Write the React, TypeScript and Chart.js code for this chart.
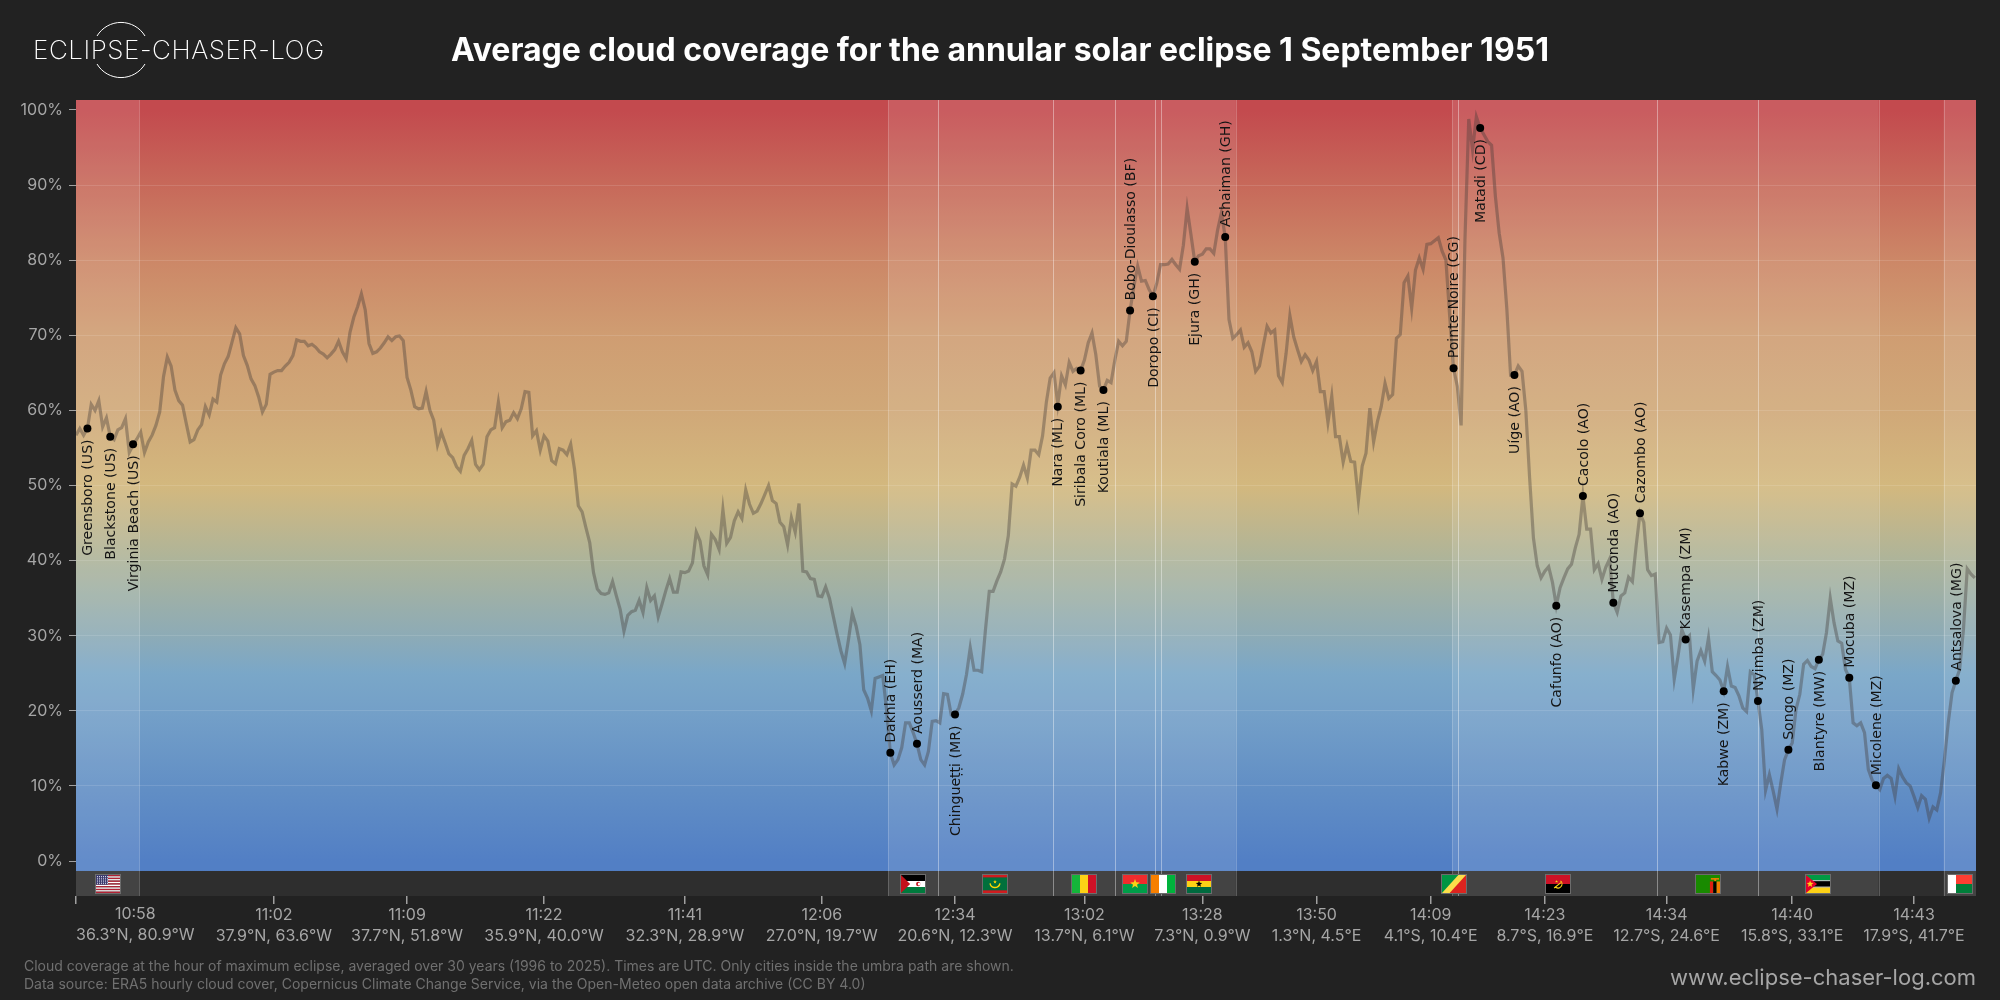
import { useEffect, useRef } from 'react';
import { Chart, registerables } from 'chart.js';

Chart.register(...registerables);

// cloud cover in %, one value per sample along the path, cut in four stretches
const cloudAtlantic = [
  56.7, 57.6, 56.7, 57.6, 60.8, 60.0, 61.3, 57.8, 59.0, 56.5, 56.1, 57.4, 57.7, 58.9, 54.4, 55.4, 56.2, 57.1, 54.4, 55.8,
  56.7, 58.0, 59.8, 64.5, 67.1, 65.9, 62.7, 61.3, 60.7, 58.2, 55.8, 56.1, 57.4, 58.1, 60.5, 59.4, 61.5, 61.1, 64.7, 66.2,
  67.2, 69.1, 71.0, 70.2, 67.3, 66.0, 64.2, 63.3, 61.8, 59.8, 60.8, 64.8, 65.1, 65.3, 65.3, 65.9, 66.4, 67.3, 69.4, 69.2,
  69.2, 68.6, 68.8, 68.4, 67.8, 67.5, 67.0, 67.5, 68.1, 69.2, 67.8, 66.9, 70.4, 72.4, 73.8, 75.5, 73.4, 68.9, 67.6, 67.8,
  68.3, 69.0, 69.8, 69.3, 69.8, 69.9, 69.3, 64.4, 62.7, 60.5, 60.2, 60.3, 62.5, 60.0, 58.7, 55.4, 57.1, 55.7, 54.2, 53.7,
  52.5, 51.9, 54.0, 54.9, 56.0, 52.8, 52.1, 52.8, 56.5, 57.4, 57.7, 61.1, 57.7, 58.5, 58.7, 59.7, 58.9, 60.2, 62.5, 62.4,
  56.6, 57.3, 54.7, 56.6, 55.9, 53.3, 52.9, 54.9, 54.7, 54.1, 55.5,
];
const cloudSahara = [
  52.2, 47.3, 46.5, 44.4, 42.4, 38.4, 36.2, 35.6, 35.5, 35.7, 37.2, 35.3, 33.5, 30.6, 32.7, 33.2, 33.4, 34.7, 33.1, 36.4,
  34.7, 35.3, 32.5, 34.2, 36.0, 37.6, 35.8, 35.8, 38.5, 38.4, 38.6, 39.7, 43.8, 42.6, 39.3, 38.1, 43.5, 42.8, 41.5, 46.8,
  42.3, 43.1, 45.3, 46.5, 45.6, 49.4, 47.5, 46.3, 46.6, 47.6, 48.8, 50.0, 48.0, 47.6, 45.1, 44.5, 42.1, 45.7, 43.8, 47.6,
  38.6, 38.5, 37.6, 37.5, 35.3, 35.2, 36.5, 35.0, 32.6, 30.2, 28.0, 26.3, 29.5, 33.0, 31.3, 28.8, 22.8, 21.7, 20.0, 24.3,
  24.5, 24.7, 20.2, 14.4, 12.8, 13.5, 15.1, 18.4, 18.4, 17.1, 15.6, 13.5, 12.8, 14.6, 18.6, 18.7, 18.4, 22.3, 22.2, 19.5,
  19.5, 20.4, 22.2, 24.8, 28.4, 25.4, 25.4, 25.2, 30.8, 35.9, 35.9, 37.3, 38.5, 40.2, 43.3, 50.2, 49.9, 51.1, 52.7, 51.0,
  54.7, 54.7, 54.1, 56.6, 61.1,
];
const cloudGuinea = [
  64.3, 65.0, 60.8, 64.6, 63.4, 66.4, 65.2, 65.6, 65.3, 66.7, 69.0, 70.3, 67.4, 63.2, 62.7, 64.0, 63.7, 66.7, 69.2, 68.6,
  69.2, 73.3, 76.5, 79.2, 77.2, 77.3, 76.1, 75.2, 76.9, 79.4, 79.4, 79.5, 80.1, 79.4, 78.8, 82.0, 86.9, 83.4, 79.8, 80.6,
  80.8, 81.5, 81.5, 80.9, 84.0, 86.3, 83.1, 72.1, 69.6, 70.1, 70.7, 68.4, 69.0, 67.8, 65.2, 65.9, 68.6, 71.2, 70.3, 70.7,
  64.6, 63.7, 67.6, 72.6, 69.8, 68.1, 66.5, 67.4, 66.7, 65.3, 66.5, 62.5, 62.5, 58.4, 61.9, 56.5, 56.5, 53.1, 55.3, 53.2,
  53.1, 48.0, 52.6, 54.3, 60.3, 55.8, 58.5, 60.5, 63.6, 61.6, 62.1, 69.6, 70.1, 77.0, 77.9, 73.6, 78.7, 80.3, 78.8, 82.1,
  82.2, 82.6, 83.0, 81.2, 80.0, 72.5, 65.6, 63.2, 58.0, 82.7, 98.8, 94.7, 99.1, 97.6, 96.7, 95.8, 95.3, 88.5, 83.6, 80.3,
  73.6, 64.7, 64.7, 65.9, 65.2, 60.0, 51.0, 43.0,
];
const cloudSouthernAfrica = [
  39.3, 37.7, 38.6, 39.2, 37.1, 34.0, 36.4, 37.7, 38.9, 39.5, 41.7, 43.5, 48.6, 44.2, 44.2, 38.8, 39.6, 37.5, 39.1, 40.2,
  34.4, 33.1, 35.3, 35.7, 37.8, 37.2, 42.0, 46.3, 45.1, 38.8, 38.0, 38.2, 29.1, 29.2, 31.0, 30.1, 24.2, 27.3, 30.8, 29.5,
  30.0, 22.9, 26.6, 28.0, 26.6, 29.7, 25.2, 24.7, 24.1, 22.6, 25.9, 23.3, 23.1, 22.0, 20.4, 19.9, 25.2, 24.8, 21.3, 17.5,
  9.4, 11.5, 9.3, 6.9, 10.4, 13.5, 14.8, 15.7, 20.2, 22.2, 26.2, 26.7, 25.9, 25.6, 26.8, 27.5, 30.4, 35.0, 31.7, 29.3,
  29.0, 25.5, 24.4, 18.4, 18.0, 18.4, 17.1, 12.2, 10.8, 10.1, 9.5, 11.0, 11.4, 11.0, 8.6, 12.3, 11.2, 10.4, 10.0, 8.6,
  7.1, 8.7, 8.2, 5.7, 7.2, 6.8, 9.1, 13.5, 18.4, 22.4, 24.0, 25.5, 30.8, 38.9, 38.2, 37.7,
];
const cloudCover = [...cloudAtlantic, ...cloudSahara, ...cloudGuinea, ...cloudSouthernAfrica];

const cityNames = [
  'Greensboro (US)', 'Blackstone (US)', 'Virginia Beach (US)', 'Dakhla (EH)', 'Aousserd (MA)', 'Chingueṭṭi (MR)',
  'Nara (ML)', 'Siribala Coro (ML)', 'Koutiala (ML)', 'Bobo-Dioulasso (BF)', 'Doropo (CI)', 'Ejura (GH)', 'Ashaiman (GH)',
  'Pointe-Noire (CG)', 'Matadi (CD)', 'Uíge (AO)', 'Cafunfo (AO)', 'Cacolo (AO)', 'Muconda (AO)', 'Cazombo (AO)',
  'Kasempa (ZM)', 'Kabwe (ZM)', 'Nyimba (ZM)', 'Songo (MZ)', 'Blantyre (MW)', 'Mocuba (MZ)', 'Micolene (MZ)', 'Antsalova (MG)',
];
const citySample = [3, 9, 15, 214, 221, 231, 258, 264, 270, 277, 283, 294, 302, 362, 369, 378, 389, 396, 404, 411, 423, 433, 442, 450, 458, 466, 473, 494];
const cityCloud = [57.6, 56.5, 55.5, 14.4, 15.6, 19.5, 60.5, 65.3, 62.7, 73.3, 75.2, 79.8, 83.1, 65.6, 97.6, 64.7, 34.0, 48.6, 34.4, 46.3, 29.5, 22.6, 21.3, 14.8, 26.8, 24.4, 10.1, 24.0];
const cityAbove = [false, false, false, true, true, false, false, false, false, true, false, false, true, true, false, false, false, true, true, true, true, false, true, true, false, true, true, true];

const tickSamples = [0, 52, 87, 123, 160, 196, 231, 265, 296, 326, 356, 386, 418, 451, 483];
const tickTimes = ['10:58', '11:02', '11:09', '11:22', '11:41', '12:06', '12:34', '13:02', '13:28', '13:50', '14:09', '14:23', '14:34', '14:40', '14:43'];
const tickCoords = [
  '36.3°N, 80.9°W', '37.9°N, 63.6°W', '37.7°N, 51.8°W', '35.9°N, 40.0°W', '32.3°N, 28.9°W', '27.0°N, 19.7°W', '20.6°N, 12.3°W',
  '13.7°N, 6.1°W', '7.3°N, 0.9°W', '1.3°N, 4.5°E', '4.1°S, 10.4°E', '8.7°S, 16.9°E', '12.7°S, 24.6°E', '15.8°S, 33.1°E', '17.9°S, 41.7°E',
];
const yTicks = [0, 10, 20, 30, 40, 50, 60, 70, 80, 90, 100];

// country stretches over land, in samples
const bandStart = [0, 213.5, 226.6, 256.7, 273.1, 283.6, 285.2, 361.7, 363.1, 415.6, 442.1, 490.8];
const bandEnd = [16.6, 226.6, 256.7, 273.1, 283.6, 285.2, 304.8, 363.1, 415.6, 442.1, 473.7, 499.3];
const flagCodes = ['US', 'EH', 'MR', 'ML', 'BF', 'CI', 'GH', 'CG', 'AO', 'ZM', 'MZ', 'MG'];
const flagSample = [8.3, 220, 241.6, 264.9, 278.3, 285.7, 295, 362.2, 389.4, 428.8, 457.9, 495];

const gradientValues = [100, 90, 80, 70, 60, 50, 40, 30, 25, 20, 10, 0];
const gradientColors = ['#c34a4e', '#c7695a', '#cc8767', '#cf9d72', '#d0a878', '#d3b87e', '#adb49a', '#8dabb6', '#7aa7c8', '#74a0c8', '#628fc5', '#527fc5'];

const Y_MIN = -4.66;
const Y_MAX = 101.33;
const GRADIENT_FLOOR = -1.33;
const X_MAX = 499.3;
const FLAG_ROW = -3;

type Ctx = CanvasRenderingContext2D;

function star(ctx: Ctx, cx: number, cy: number, r: number, color: string) {
  ctx.fillStyle = color;
  ctx.beginPath();
  for (let i = 0; i < 10; i++) {
    const rad = i % 2 ? r * 0.42 : r;
    const a = -Math.PI / 2 + (i * Math.PI) / 5;
    ctx.lineTo(cx + rad * Math.cos(a), cy + rad * Math.sin(a));
  }
  ctx.closePath();
  ctx.fill();
}

function hStripes(ctx: Ctx, x: number, y: number, w: number, h: number, colors: string[], weights?: number[]) {
  const total = weights ? weights.reduce((a, b) => a + b, 0) : colors.length;
  let top = y;
  colors.forEach((c, i) => {
    const sh = (h * (weights ? weights[i] : 1)) / total;
    ctx.fillStyle = c;
    ctx.fillRect(x, top, w, sh);
    top += sh;
  });
}

function vStripes(ctx: Ctx, x: number, y: number, w: number, h: number, colors: string[]) {
  colors.forEach((c, i) => {
    ctx.fillStyle = c;
    ctx.fillRect(x + (i * w) / colors.length, y, w / colors.length, h);
  });
}

function tri(ctx: Ctx, pts: number[], color: string) {
  ctx.fillStyle = color;
  ctx.beginPath();
  ctx.moveTo(pts[0], pts[1]);
  for (let i = 2; i < pts.length; i += 2) ctx.lineTo(pts[i], pts[i + 1]);
  ctx.closePath();
  ctx.fill();
}

function drawFlag(ctx: Ctx, code: string, x: number, y: number, w: number, h: number) {
  ctx.save();
  ctx.beginPath();
  ctx.rect(x, y, w, h);
  ctx.clip();
  if (code === 'US') {
    hStripes(ctx, x, y, w, h, ['#b22234', '#fff', '#b22234', '#fff', '#b22234', '#fff', '#b22234', '#fff', '#b22234', '#fff', '#b22234', '#fff', '#b22234']);
    ctx.fillStyle = '#3c3b6e';
    ctx.fillRect(x, y, w * 0.5, h * 0.54);
    ctx.fillStyle = '#dfe2f0';
    for (let r = 0; r < 5; r++) for (let c = 0; c < 6; c++) ctx.fillRect(x + 1 + c * 2, y + 1 + r * 1.8, 1, 0.9);
  } else if (code === 'EH') {
    hStripes(ctx, x, y, w, h, ['#000', '#fff', '#007a3d']);
    tri(ctx, [x, y, x + w * 0.38, y + h / 2, x, y + h], '#c4111b');
    ctx.fillStyle = '#c4111b';
    ctx.beginPath();
    ctx.arc(x + w * 0.72, y + h / 2, 2.2, 0, Math.PI * 2);
    ctx.fill();
    ctx.fillStyle = '#fff';
    ctx.beginPath();
    ctx.arc(x + w * 0.76, y + h / 2, 1.5, 0, Math.PI * 2);
    ctx.fill();
  } else if (code === 'MR') {
    hStripes(ctx, x, y, w, h, ['#d01c1f', '#00703c', '#d01c1f'], [1, 5, 1]);
    ctx.strokeStyle = '#ffd700';
    ctx.lineWidth = 1.4;
    ctx.beginPath();
    ctx.arc(x + w / 2, y + h * 0.42, 5, 0.15, Math.PI - 0.15);
    ctx.stroke();
    star(ctx, x + w / 2, y + h * 0.38, 2, '#ffd700');
  } else if (code === 'ML') {
    vStripes(ctx, x, y, w, h, ['#14b53a', '#fcd116', '#ce1126']);
  } else if (code === 'BF') {
    hStripes(ctx, x, y, w, h, ['#ef2b2d', '#009e49']);
    star(ctx, x + w / 2, y + h / 2, 5, '#fcd116');
  } else if (code === 'CI') {
    vStripes(ctx, x, y, w, h, ['#f77f00', '#fff', '#00b33c']);
  } else if (code === 'GH') {
    hStripes(ctx, x, y, w, h, ['#ce1126', '#fcd116', '#006b3f']);
    star(ctx, x + w / 2, y + h / 2, 3.4, '#000');
  } else if (code === 'CG') {
    ctx.fillStyle = '#fbde4a';
    ctx.fillRect(x, y, w, h);
    tri(ctx, [x, y, x + w * 0.68, y, x, y + h], '#009543');
    tri(ctx, [x + w, y, x + w, y + h, x + w * 0.32, y + h], '#dc241f');
  } else if (code === 'AO') {
    hStripes(ctx, x, y, w, h, ['#ce1126', '#000']);
    ctx.strokeStyle = '#f9d616';
    ctx.lineWidth = 1.1;
    ctx.beginPath();
    ctx.arc(x + w / 2, y + h / 2, 4, -0.9, 2.2);
    ctx.moveTo(x + w * 0.34, y + h * 0.72);
    ctx.lineTo(x + w * 0.62, y + h * 0.42);
    ctx.stroke();
    star(ctx, x + w * 0.44, y + h * 0.36, 1.5, '#f9d616');
  } else if (code === 'ZM') {
    ctx.fillStyle = '#198a00';
    ctx.fillRect(x, y, w, h);
    vStripes(ctx, x + w * 0.58, y + h * 0.36, w * 0.42, h * 0.64, ['#de2010', '#000', '#ef7d00']);
    ctx.fillStyle = '#ef7d00';
    ctx.fillRect(x + w * 0.62, y + h * 0.17, w * 0.34, 1.6);
    ctx.fillRect(x + w * 0.76, y + h * 0.17, w * 0.08, 3);
  } else if (code === 'MZ') {
    hStripes(ctx, x, y, w, h, ['#009a44', '#fff', '#000', '#fff', '#fcd116'], [6, 1, 6, 1, 6]);
    tri(ctx, [x, y, x + w * 0.46, y + h / 2, x, y + h], '#e4002b');
    star(ctx, x + w * 0.17, y + h / 2, 3.6, '#fcd116');
  } else if (code === 'MG') {
    ctx.fillStyle = '#fff';
    ctx.fillRect(x, y, w / 3, h);
    hStripes(ctx, x + w / 3, y, (w * 2) / 3, h, ['#fc3d32', '#007e3a']);
  }
  ctx.restore();
  ctx.strokeStyle = '#6c6c6c';
  ctx.lineWidth = 1;
  ctx.strokeRect(x - 0.5, y - 0.5, w + 1, h + 1);
}

const backdropPlugin = {
  id: 'backdrop',
  beforeDraw(chart: Chart) {
    const { ctx, chartArea: area, scales } = chart;
    const xs = scales.x;
    const ys = scales.y;
    const floor = ys.getPixelForValue(GRADIENT_FLOOR);
    const y0 = ys.getPixelForValue(0);
    const y100 = ys.getPixelForValue(100);
    const grad = ctx.createLinearGradient(0, y100, 0, y0);
    gradientValues.forEach((v, i) => grad.addColorStop((100 - v) / 100, gradientColors[i]));
    ctx.save();
    ctx.fillStyle = grad;
    ctx.fillRect(area.left, area.top, area.width, floor - area.top);
    ctx.fillStyle = '#2e2e2e';
    ctx.fillRect(area.left, floor, area.width, area.bottom - floor);
    bandStart.forEach((s, i) => {
      const a = xs.getPixelForValue(s);
      const b = xs.getPixelForValue(bandEnd[i]);
      ctx.fillStyle = 'rgba(255,255,255,0.1)';
      ctx.fillRect(a, area.top, b - a, area.height);
    });
    ctx.strokeStyle = 'rgba(255,255,255,0.22)';
    ctx.lineWidth = 1;
    [...bandStart, ...bandEnd].forEach((s) => {
      if (s <= 0 || s >= X_MAX) return;
      const p = Math.round(xs.getPixelForValue(s)) + 0.5;
      ctx.beginPath();
      ctx.moveTo(p, area.top);
      ctx.lineTo(p, area.bottom);
      ctx.stroke();
    });
    ctx.restore();
  },
  afterDraw(chart: Chart) {
    const { ctx, scales } = chart;
    const xs = scales.x;
    const ys = scales.y;
    const rowY = ys.getPixelForValue(FLAG_ROW);
    flagCodes.forEach((code, i) => {
      drawFlag(ctx, code, Math.round(xs.getPixelForValue(flagSample[i])) - 12, Math.round(rowY) - 9, 24, 18);
    });

    // first tick label sits flush with the axis start, not centred on its tick
    ctx.save();
    ctx.font = '16px Inter';
    ctx.fillStyle = '#a6a6a6';
    ctx.textBaseline = 'middle';
    ctx.textAlign = 'center';
    const left = xs.getPixelForValue(tickSamples[0]);
    const mid = left + ctx.measureText(tickCoords[0]).width / 2;
    ctx.fillText(tickTimes[0], mid, xs.top + 18);
    ctx.fillText(tickCoords[0], mid, xs.top + 39);
    ctx.restore();
  },
};

const cityLabelPlugin = {
  id: 'cityLabels',
  afterDatasetsDraw(chart: Chart) {
    const { ctx, scales } = chart;
    ctx.save();
    ctx.font = '14.1px "DejaVu Sans"';
    ctx.fillStyle = '#141414';
    ctx.textBaseline = 'middle';
    cityNames.forEach((name, i) => {
      const x = scales.x.getPixelForValue(citySample[i]);
      const y = scales.y.getPixelForValue(cityCloud[i]);
      ctx.save();
      ctx.translate(x + 1, y);
      ctx.rotate(-Math.PI / 2);
      ctx.textAlign = cityAbove[i] ? 'left' : 'right';
      ctx.fillText(name, cityAbove[i] ? 10 : -11, 0);
      ctx.restore();
    });
    ctx.restore();
  },
};

const overlay = (css: React.CSSProperties) => ({ position: 'absolute' as const, whiteSpace: 'nowrap' as const, ...css });

export default function App() {
  const chartRef = useRef<HTMLCanvasElement>(null);

  useEffect(() => {
    document.body.style.margin = '0';
    if (!chartRef.current) return;

    const chart = new Chart(chartRef.current, {
      type: 'line',
      data: {
        datasets: [
          {
            label: 'Cities',
            data: citySample.map((s, i) => ({ x: s, y: cityCloud[i] })),
            showLine: false,
            pointRadius: 4,
            pointBackgroundColor: '#000',
            pointBorderWidth: 0,
            order: 0,
          },
          {
            label: 'Cloud coverage',
            data: cloudCover.map((v, i) => ({ x: i, y: v })),
            borderColor: 'rgba(66, 58, 56, 0.38)',
            borderWidth: 3.2,
            pointRadius: 0,
            tension: 0,
            order: 1,
          },
        ],
      },
      options: {
        animation: false,
        responsive: false,
        devicePixelRatio: 1,
        layout: { padding: { top: 100, right: 24, left: 0, bottom: 0 } },
        plugins: { legend: { display: false }, tooltip: { enabled: false } },
        scales: {
          x: {
            type: 'linear',
            min: 0,
            max: X_MAX,
            afterFit: (scale: any) => { scale.height = 104; },
            afterBuildTicks: (scale: any) => { scale.ticks = tickSamples.map((value) => ({ value })); },
            border: { display: false },
            grid: { drawOnChartArea: false, color: '#a0a0a0', lineWidth: 1.5, tickLength: 8 },
            ticks: {
              autoSkip: false,
              maxRotation: 0,
              padding: 1,
              color: '#a6a6a6',
              font: { family: 'Inter', size: 16, lineHeight: 1.3125 },
              callback: (value: any) => {
                const i = tickSamples.indexOf(value);
                return i <= 0 ? '' : [tickTimes[i], tickCoords[i]];
              },
            },
          },
          y: {
            min: Y_MIN,
            max: Y_MAX,
            afterFit: (scale: any) => { scale.width = 76; },
            afterBuildTicks: (scale: any) => { scale.ticks = yTicks.map((value) => ({ value })); },
            border: { display: false },
            grid: {
              color: (c: any) => (c.tick && c.tick.value > 0 && c.tick.value < 100 ? 'rgba(255,255,255,0.12)' : 'rgba(0,0,0,0)'),
              tickColor: '#a0a0a0',
              tickLength: 7,
            },
            ticks: {
              padding: 6,
              color: '#a6a6a6',
              font: { family: 'Inter', size: 16 },
              callback: (value: any) => `${value}%`,
            },
          },
        },
      },
      plugins: [backdropPlugin, cityLabelPlugin],
    });

    return () => {
      chart.destroy();
    };
  }, []);

  return (
    <div style={{ position: 'absolute', left: 0, top: 0, width: 2000, height: 1000, background: '#222222', overflow: 'hidden', fontFamily: 'Inter' }}>
      <canvas ref={chartRef} width={2000} height={1000} style={{ position: 'absolute', left: 0, top: 0 }} />

      <svg width={340} height={90} style={{ position: 'absolute', left: 0, top: 0 }}>
        <path d="M97 36 A28 28 0 0 1 145 36" fill="none" stroke="#fff" strokeWidth={1} />
        <path d="M97 64 A28 28 0 0 0 145 64" fill="none" stroke="#fff" strokeWidth={1} />
      </svg>
      <div style={overlay({ left: 33, top: 34, fontSize: 26, lineHeight: '32px', fontWeight: 200, color: '#fff', letterSpacing: 0.55 })}>ECLIPSE-CHASER-LOG</div>

      <div style={overlay({ left: 451, top: 28, fontSize: 32, lineHeight: '44px', fontWeight: 700, color: '#fff' })}>
        Average cloud coverage for the annular solar eclipse 1 September 1951
      </div>

      <div style={overlay({ left: 24, top: 957, fontSize: 14, lineHeight: '18px', color: '#707070' })}>
        Cloud coverage at the hour of maximum eclipse, averaged over 30 years (1996 to 2025). Times are UTC. Only cities inside the umbra path are shown.
        <br />
        Data source: ERA5 hourly cloud cover, Copernicus Climate Change Service, via the Open-Meteo open data archive (CC BY 4.0)
      </div>
      <div style={overlay({ right: 24, top: 963, fontSize: 22, lineHeight: '28px', color: '#a6a6a6' })}>www.eclipse-chaser-log.com</div>
    </div>
  );
}
